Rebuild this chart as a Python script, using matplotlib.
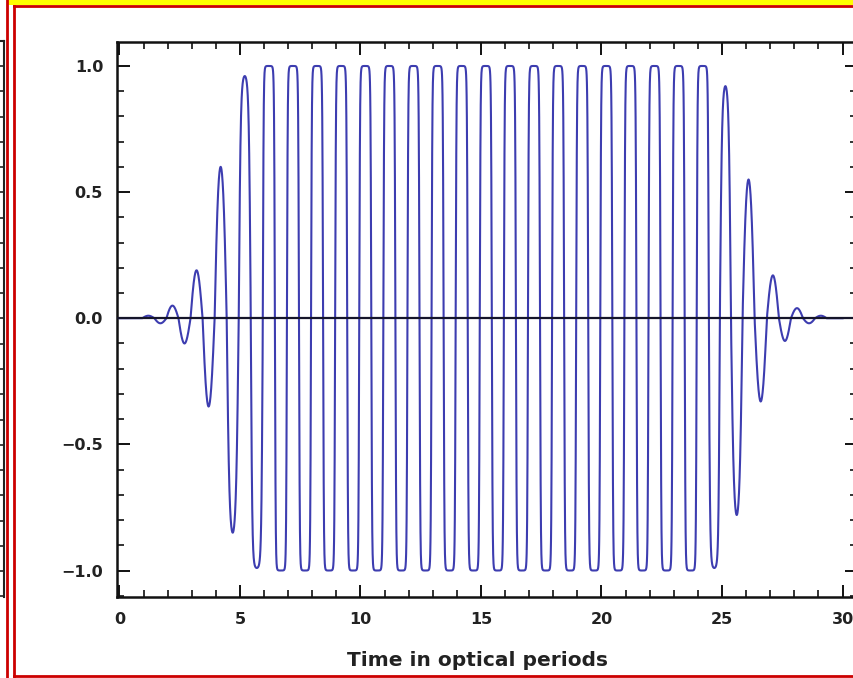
import numpy as np
import matplotlib
matplotlib.use("Agg")
import matplotlib.pyplot as plt
from matplotlib.ticker import MultipleLocator
from matplotlib.lines import Line2D
from matplotlib.patches import Rectangle

# ---- data: extrema of the field (time, value) ----
ext_times = [1.2, 1.7, 2.2, 2.7, 3.2, 3.7, 4.2, 4.7, 5.2, 5.7,
             6.2, 6.7, 7.2, 7.7, 8.2, 8.7, 9.2, 9.7, 10.2, 10.7,
             11.2, 11.7, 12.2, 12.7, 13.2, 13.7, 14.2, 14.7, 15.2, 15.7,
             16.2, 16.7, 17.2, 17.7, 18.2, 18.7, 19.2, 19.7, 20.2, 20.7,
             21.2, 21.7, 22.2, 22.7, 23.2, 23.7, 24.2, 24.7, 25.12, 25.62,
             26.08, 26.62, 27.1, 27.62, 28.1, 28.62, 29.1]
ext_values = [0.01, -0.02, 0.05, -0.10, 0.19, -0.35, 0.60, -0.85, 0.96, -0.99,
              1.0, -1.0, 1.0, -1.0, 1.0, -1.0, 1.0, -1.0, 1.0, -1.0,
              1.0, -1.0, 1.0, -1.0, 1.0, -1.0, 1.0, -1.0, 1.0, -1.0,
              1.0, -1.0, 1.0, -1.0, 1.0, -1.0, 1.0, -1.0, 1.0, -1.0,
              1.0, -1.0, 1.0, -1.0, 1.0, -1.0, 1.0, -0.99, 0.92, -0.78,
              0.55, -0.33, 0.17, -0.09, 0.04, -0.02, 0.01]
t_start, t_end = 0.0, 30.0
x_ticks = [0, 5, 10, 15, 20, 25, 30]
y_ticks = [-1.0, -0.5, 0.0, 0.5, 1.0]
x_label = "Time in optical periods"

# ---- build the curve: one saturated half-cycle per extremum ----
ts = [t_start]
ys = [0.0]
n = len(ext_times)
phi = np.linspace(0, np.pi, 100)
for i in range(n):
    ti, vi = ext_times[i], ext_values[i]
    zl = (ext_times[i - 1] + ti) / 2 if i > 0 else ti - (ext_times[1] - ti) / 2
    zr = (ti + ext_times[i + 1]) / 2 if i < n - 1 else ti + (ti - ext_times[i - 1]) / 2
    if i == 0:
        ts.append(zl); ys.append(0.0)
    a = np.arctanh(min(abs(vi), 0.9999))
    seg_t = zl + (zr - zl) * phi / np.pi
    seg_y = np.sign(vi) * np.tanh(a * np.sin(phi)) / np.tanh(a) * min(abs(vi), 1.0)
    ts.extend(seg_t[1:]); ys.extend(seg_y[1:])
ts.append(t_end); ys.append(0.0)

W, H = 854, 678
fig = plt.figure(figsize=(W / 100, H / 100), dpi=100)
fig.patch.set_facecolor("white")

# screenshot decorations (borders, neighbour panel edge)
def px(x, y):
    return x / W, 1 - y / H

fig.add_artist(Rectangle(px(8, 5), (W - 8) / W, 5 / H, transform=fig.transFigure,
                         facecolor="#ffff00", edgecolor="none", zorder=0))
fig.add_artist(Line2D([7 / W, 7 / W], [0, 1], transform=fig.transFigure, color="#cc0000", lw=2))
fig.add_artist(Line2D([14 / W, 14 / W], [1 - 5.5 / H, 1 - 676 / H], transform=fig.transFigure, color="#cc0000", lw=2))
fig.add_artist(Line2D([14 / W, 1], [1 - 5.5 / H, 1 - 5.5 / H], transform=fig.transFigure, color="#cc0000", lw=2))
fig.add_artist(Line2D([14 / W, 1], [1 - 676 / H, 1 - 676 / H], transform=fig.transFigure, color="#cc0000", lw=2))
# neighbour panel frame bits
fig.add_artist(Line2D([0, 4 / W], [1 - 41 / H, 1 - 41 / H], transform=fig.transFigure, color="#222222", lw=1.5))
fig.add_artist(Line2D([4 / W, 4 / W], [1 - 41 / H, 1 - 597 / H], transform=fig.transFigure, color="#222222", lw=1.5))
for k in range(23):
    yy = 66 + k * 25.25
    if yy < 597:
        fig.add_artist(Line2D([0, 4 / W], [1 - yy / H, 1 - yy / H], transform=fig.transFigure, color="#222222", lw=1.2))

# ---- axes ----
left, right, top, bottom = 117, 857, 42, 597
ax = fig.add_axes([left / W, 1 - bottom / H, (right - left) / W, (bottom - top) / H])
ax.set_xlim(-0.1, 30.6)
ax.set_ylim(-1.105, 1.095)

ax.plot(ts, ys, color="#3d3db0", lw=1.5, zorder=3)
ax.axhline(0, color="#15152a", lw=1.6, zorder=4)

for s in ax.spines.values():
    s.set_linewidth(1.8)
    s.set_color("#111111")

ax.set_xticks(x_ticks)
ax.set_yticks(y_ticks)
ax.set_xticklabels([str(v) for v in x_ticks])
ax.set_yticklabels([f"{v:.1f}".replace("-", "\u2212") for v in y_ticks])
ax.xaxis.set_minor_locator(MultipleLocator(1))
ax.yaxis.set_minor_locator(MultipleLocator(0.1))
ax.tick_params(which="both", direction="in", top=True, right=True, color="#111111")
ax.tick_params(which="major", length=9, width=1.4)
ax.tick_params(which="minor", length=5, width=1.2)
ax.tick_params(axis="x", which="major", pad=11)
ax.tick_params(axis="y", which="major", pad=10)
for lab in ax.get_xticklabels() + ax.get_yticklabels():
    lab.set_fontfamily("DejaVu Sans")
    lab.set_fontweight("bold")
    lab.set_fontsize(11.5)
    lab.set_color("#222222")

fig.text(478 / W, 1 - 661 / H, x_label, ha="center", va="center",
         fontfamily="DejaVu Sans", fontweight="bold", fontsize=14.5, color="#222222")

fig.savefig("out.png", dpi=100)
